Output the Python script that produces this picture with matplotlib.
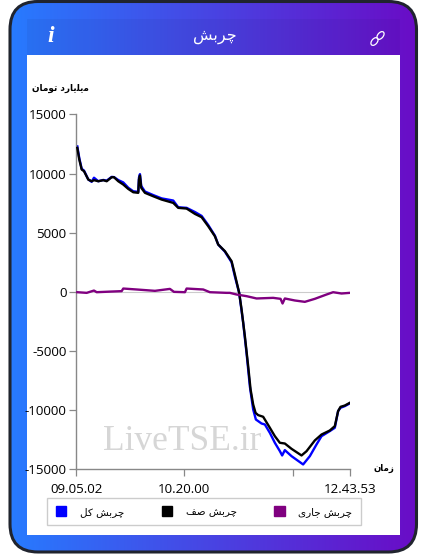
import matplotlib
matplotlib.use("Agg")
import matplotlib.pyplot as plt
import numpy as np
from matplotlib.patches import FancyBboxPatch, Rectangle, Patch, Ellipse

## parameters
W, H = 427, 554
col_total = "#0000ff"
col_queue = "#000000"
col_current = "#800080"
lw0 = 1.7
fs_tick = 9.6
font_fa = "DejaVu Sans"
font_num = "Open Sans"

##--------------- data ---------------##

# labels are stored in visual order with Arabic presentation forms,
# matplotlib does no shaping or bidi of its own
title_fa = "\uFEB6\uFE91\uFEAE\uFB7C"
unit_fa = "\uFEE5\uFE8E\uFEE3\uFEEE\uFE97 \uFEA9\uFEAD\uFE8E\uFBFE\uFEE0\uFBFE\uFEE3"
time_fa = "\uFEE5\uFE8E\uFEE3\uFEAF"
total_fa = "\uFEDE\uFB90 " + title_fa
queue_fa = "\uFED2\uFEBB " + title_fa
current_fa = "\uFBFC\uFEAD\uFE8E\uFE9F " + title_fa

# sample index along the time axis
x_ticks = [0, 108, 217, 273.5]
x_labels = ["09.05.02", "10.20.00", "", "12.43.53"]
y_ticks = [-15000, -10000, -5000, 0, 5000, 10000, 15000]
y_labels = ["-15000", "-10000", "-5000", "0", "5000", "10000", "15000"]

x_queue = [0.8, 2.8, 5.2, 7.5, 11.8, 15.2, 17.5, 21.8, 26.8, 30.2, 35.2, 37.5, 41.8,
           46.8, 51.8, 56.8, 61.8, 62.5, 63.5, 64.8, 68.5, 76.8, 85.2, 96.8, 101.8,
           110.2, 118.5, 125.2, 131.8, 138.5, 141.8, 148.5, 155.2, 158.5, 162.8,
           165.2, 168.5, 171.8, 174.2, 176.8, 179.2, 181.8, 186.8, 193.5, 198.5,
           203.5, 208.5, 215.2, 225.2, 230.2, 238.5, 245.2, 253.5, 258.5, 261.8,
           264.2, 268.5, 273.5]
y_queue = [12170, 11180, 10340, 10200, 9490, 9350, 9440, 9350, 9440, 9350, 9690, 9690, 9350,
           9070, 8700, 8420, 8370, 9490, 9830, 8790, 8370, 8080, 7800, 7520, 7100,
           7040, 6590, 6310, 5550, 4700, 4000, 3440, 2590, 1460, -85,
           -1490, -3750, -6280, -8250, -9520, -10230, -10420, -10560, -11490, -12200,
           -12760, -12820, -13270, -13830, -13470, -12560, -12060, -11720, -11350, -10080,
           -9720, -9610, -9380]

x_total = [0.8, 2.8, 5.2, 7.5, 11.8, 15.2, 17.5, 21.8, 26.8, 30.2, 35.2, 37.5, 41.8,
           46.8, 51.8, 56.8, 61.8, 62.5, 63.5, 64.8, 68.5, 76.8, 85.2, 96.8, 101.8,
           110.2, 118.5, 125.2, 131.8, 138.5, 141.8, 148.5, 155.2, 158.5, 162.8,
           166.8, 170.2, 173.5, 176.8, 179.5, 185.2, 188.5, 193.5, 198.5, 203.5,
           205.8, 208.5, 215.2, 226.8, 233.5, 240.2, 245.2, 253.5, 258.5, 261.8,
           264.2, 268.5, 273.5]
y_total = [12300, 11300, 10400, 10250, 9500, 9300, 9650, 9350, 9460, 9400, 9720, 9700, 9450,
           9250, 8800, 8500, 8450, 9650, 9950, 8950, 8480, 8180, 7900, 7720, 7150,
           7100, 6750, 6420, 5650, 4750, 4000, 3400, 2500, 1300, -85,
           -2620, -5200, -8000, -9940, -10790, -11130, -11210, -11920, -12760, -13460,
           -13830, -13380, -13890, -14590, -13890, -12900, -12200, -11770, -11490, -10080,
           -9800, -9660, -9430]

x_current = [0.8, 10.2, 17.5, 20.2, 33.5, 45.2, 46.8, 60.2, 78.5, 93.5, 97.5, 108.5,
             110.2, 126.8, 133.5, 150.2, 153.5, 160.2, 170.2, 180.2, 196.8, 204.2,
             206.2, 208.5, 218.5, 228.5, 238.5, 250.2, 256.8, 265.2, 273.5]
y_current = [-30, -85, 110, -30, 20, 60, 280, 200, 85, 250, 0, -30,
             280, 200, -30, -85, -85, -225, -365, -560, -507, -590,
             -985, -560, -730, -845, -590, -225, -30, -140, -85]

##--------------- frame ---------------##

fig = plt.figure(figsize=(W / 100, H / 100), dpi=100, facecolor="white")

bg = fig.add_axes([0, 0, 1, 1])
bg.axis("off")

grad = np.linspace(0, 1, 256).reshape(1, -1, 1)
c0 = np.array([0x27, 0x7b, 0xff]) / 255
c1 = np.array([0x6a, 0x0c, 0xc6]) / 255
im = bg.imshow(c0 + (c1 - c0) * grad, extent=[9, 418, 553, 1], aspect="auto", zorder=1)
bg.set_xlim(0, W)
bg.set_ylim(H, 0)

box = FancyBboxPatch((10, 1.5), 406.5, 550.5, boxstyle="round,pad=0,rounding_size=28",
                     fc="none", ec="#20242e", lw=2.2, zorder=3)
bg.add_patch(box)
im.set_clip_path(box)

bg.add_patch(Rectangle((27, 19), 373, 36, fc="#10104a", alpha=0.06, ec="none", zorder=2))
bg.add_patch(Rectangle((27, 55), 373, 480, fc="white", ec="none", zorder=2))

bg.text(215, 36, title_fa, color="white", fontsize=11.5, family=font_fa, ha="center", va="center", zorder=4)
bg.text(51, 37, "i", color="white", fontsize=17, family="Liberation Serif", weight="bold",
        style="italic", ha="center", va="center", zorder=4)
bg.add_patch(Ellipse((380.5, 35.5), 5.5, 9, angle=40, fc="none", ec="white", lw=0.9, zorder=4))
bg.add_patch(Ellipse((374.5, 41.5), 5.5, 9, angle=40, fc="none", ec="white", lw=0.9, zorder=4))

bg.text(89, 88, unit_fa, fontsize=6.4, weight="bold", family=font_fa, ha="right", va="center", zorder=4)
bg.text(394, 468, time_fa, fontsize=6.2, weight="bold", family=font_fa, ha="right", va="center", zorder=4)
bg.text(182.5, 441, "LiveTSE.ir", color="#d6d6d6", fontsize=25.5, family="Liberation Serif",
        ha="center", va="center", zorder=4)

##--------------- chart ---------------##

ax = fig.add_axes([76.5 / W, 1 - 469.3 / H, (349.8 - 76.5) / W, (469.3 - 114.4) / H])
ax.patch.set_alpha(0)

ax.axhline(0, color="#cccccc", lw=0.8, zorder=1)
ax.plot(x_total, y_total, col_total, lw=lw0, zorder=2)
ax.plot(x_queue, y_queue, col_queue, lw=lw0, zorder=3)
ax.plot(x_current, y_current, col_current, lw=lw0, zorder=4)

ax.set_xlim(0, 273.5)
ax.set_ylim(-15000, 15000)
ax.set_xticks(x_ticks)
ax.set_xticklabels(x_labels, fontsize=fs_tick, family=font_num)
ax.set_yticks(y_ticks)
ax.set_yticklabels(y_labels, fontsize=fs_tick, family=font_num)
ax.tick_params(axis="y", length=5, width=0.9, color="#888888", pad=2.2)
ax.tick_params(axis="x", length=5, width=0.9, color="#888888", pad=5)
for side in ["top", "right"]:
    ax.spines[side].set_visible(False)
for side in ["left", "bottom"]:
    ax.spines[side].set_color("#888888")
    ax.spines[side].set_linewidth(1.0)

handles = [Patch(color=col_total, label=total_fa),
           Patch(color=col_queue, label=queue_fa),
           Patch(color=col_current, label=current_fa)]
leg = fig.legend(handles=handles, ncol=3, loc="center", bbox_to_anchor=(204 / W, 1 - 511.5 / H),
                 prop={"family": font_fa, "size": 7.5}, frameon=True, fancybox=False,
                 edgecolor="#cccccc", framealpha=1, handlelength=1.0, handleheight=1.0,
                 handletextpad=1.3, columnspacing=3.6, borderpad=0.85, borderaxespad=0)

fig.savefig("out.png", dpi=100)
